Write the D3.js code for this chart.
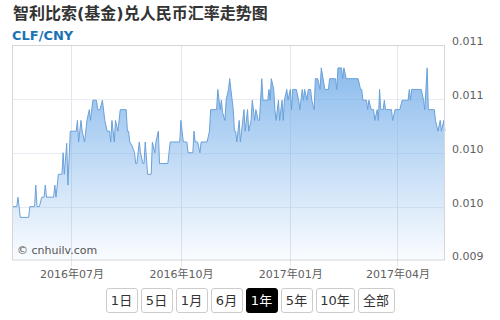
<!DOCTYPE html>
<html>
<head>
<meta charset="utf-8">
<script src="https://cdn.jsdelivr.net/npm/d3@7/dist/d3.min.js"></script>
<style>
  body { margin: 0; background: #fff; font-family: "DejaVu Sans", "Noto Sans CJK SC", sans-serif; }
  #wrap { position: relative; width: 500px; height: 320px; overflow: hidden; }
  #chart { position: absolute; left: 0; top: 0; }
  .btns { position: absolute; left: 0; top: 288px; width: 500px; display: flex; justify-content: center; gap: 3px; }
  .btns span { display: block; box-sizing: border-box; height: 25px; line-height: 23px; border: 1px solid #ccc; border-radius: 3px;
    font-size: 13px; color: #333; text-align: center; background: #fff; }
  .btns span.on { background: #000; color: #fff; border-color: #000; }
</style>
</head>
<body>
<div id="wrap">
  <svg id="chart" width="500" height="320"></svg>
  <div class="btns"></div>
</div>
<script>
const dates = ['2016-05-12','2016-05-16','2016-05-17','2016-05-19','2016-05-26','2016-05-27','2016-05-31','2016-06-01','2016-06-02','2016-06-04',
  '2016-06-06','2016-06-08','2016-06-09','2016-06-10','2016-06-16','2016-06-17','2016-06-18','2016-06-20','2016-06-23','2016-06-24',
  '2016-06-25','2016-06-27','2016-06-28','2016-06-30','2016-07-05','2016-07-06','2016-07-07','2016-07-09','2016-07-10','2016-07-12',
  '2016-07-14','2016-07-16','2016-07-17','2016-07-19','2016-07-22','2016-07-23','2016-07-25','2016-07-27','2016-07-29','2016-07-31',
  '2016-08-02','2016-08-03','2016-08-04','2016-08-06','2016-08-07','2016-08-09','2016-08-11','2016-08-16','2016-08-17','2016-08-18',
  '2016-08-19','2016-08-21','2016-08-23','2016-08-24','2016-08-25','2016-08-27','2016-08-28','2016-08-30','2016-08-31','2016-09-01',
  '2016-09-03','2016-09-06','2016-09-07','2016-09-09','2016-09-10','2016-09-12','2016-09-13','2016-09-20','2016-09-22','2016-09-30',
  '2016-10-01','2016-10-03','2016-10-06','2016-10-07','2016-10-11','2016-10-12','2016-10-13','2016-10-15','2016-10-17','2016-10-18',
  '2016-10-23','2016-10-25','2016-10-26','2016-10-31','2016-11-01','2016-11-03','2016-11-04','2016-11-05','2016-11-07','2016-11-08',
  '2016-11-10','2016-11-11','2016-11-12','2016-11-14','2016-11-15','2016-11-16','2016-11-17','2016-11-19','2016-11-20','2016-11-21',
  '2016-11-23','2016-11-24','2016-11-26','2016-11-27','2016-11-29','2016-11-30','2016-12-02','2016-12-03','2016-12-05','2016-12-06',
  '2016-12-08','2016-12-09','2016-12-13','2016-12-14','2016-12-15','2016-12-16','2016-12-18','2016-12-19','2016-12-20','2016-12-22',
  '2016-12-23','2016-12-25','2016-12-26','2016-12-27','2016-12-29','2016-12-30','2017-01-01','2017-01-02','2017-01-03','2017-01-06',
  '2017-01-08','2017-01-09','2017-01-11','2017-01-12','2017-01-13','2017-01-15','2017-01-16','2017-01-18','2017-01-19','2017-01-21',
  '2017-01-22','2017-01-24','2017-01-26','2017-01-27','2017-01-30','2017-02-02','2017-02-03','2017-02-08','2017-02-09','2017-02-10',
  '2017-02-13','2017-02-14','2017-02-15','2017-02-17','2017-02-27','2017-03-01','2017-03-02','2017-03-03','2017-03-06','2017-03-07',
  '2017-03-08','2017-03-10','2017-03-12','2017-03-13','2017-03-15','2017-03-16','2017-03-17','2017-03-18','2017-03-20','2017-03-21',
  '2017-03-22','2017-03-27','2017-03-28','2017-03-30','2017-04-03','2017-04-05','2017-04-07','2017-04-10','2017-04-11','2017-04-12',
  '2017-04-13','2017-04-21','2017-04-23','2017-04-24','2017-04-26','2017-04-27','2017-05-02','2017-05-03','2017-05-05','2017-05-07',
  '2017-05-08','2017-05-10','2017-05-11'];

const rates = [0.00980,0.00980,0.00987,0.00972,0.00972,0.00980,0.00980,0.00996,0.00980,0.00980,
  0.00987,0.00987,0.00996,0.00987,0.00987,0.00996,0.00987,0.01004,0.01004,0.01020,
  0.01004,0.01027,0.00996,0.01036,0.01036,0.01044,0.01028,0.01044,0.01036,0.01028,
  0.01044,0.01052,0.01044,0.01059,0.01059,0.01052,0.01052,0.01059,0.01044,0.01036,
  0.01036,0.01028,0.01044,0.01028,0.01044,0.01036,0.01052,0.01052,0.01036,0.01036,
  0.01028,0.01025,0.01020,0.01012,0.01012,0.01028,0.01020,0.01012,0.01012,0.01028,
  0.01004,0.01004,0.01028,0.01020,0.01028,0.01036,0.01012,0.01012,0.01028,0.01028,
  0.01044,0.01028,0.01028,0.01020,0.01020,0.01036,0.01028,0.01028,0.01020,0.01028,
  0.01028,0.01036,0.01052,0.01052,0.01067,0.01052,0.01059,0.01050,0.01044,0.01059,
  0.01067,0.01075,0.01067,0.01052,0.01036,0.01036,0.01028,0.01044,0.01028,0.01036,
  0.01052,0.01036,0.01052,0.01036,0.01044,0.01059,0.01044,0.01052,0.01044,0.01044,
  0.01075,0.01059,0.01059,0.01067,0.01059,0.01075,0.01067,0.01052,0.01044,0.01059,
  0.01044,0.01059,0.01044,0.01059,0.01067,0.01059,0.01067,0.01052,0.01067,0.01067,
  0.01059,0.01052,0.01067,0.01059,0.01067,0.01059,0.01067,0.01067,0.01059,0.01052,
  0.01075,0.01075,0.01067,0.01083,0.01067,0.01067,0.01075,0.01075,0.01067,0.01083,
  0.01083,0.01075,0.01083,0.01075,0.01075,0.01067,0.01067,0.01059,0.01059,0.01052,
  0.01059,0.01052,0.01052,0.01044,0.01052,0.01044,0.01067,0.01052,0.01052,0.01059,
  0.01052,0.01052,0.01044,0.01052,0.01052,0.01059,0.01059,0.01059,0.01067,0.01059,
  0.01067,0.01067,0.01059,0.01052,0.01083,0.01052,0.01052,0.01044,0.01036,0.01044,
  0.01036,0.01044,0.01036];

const yTicks = [0.0094, 0.0098, 0.0102, 0.0106, 0.0110];
const xTicks = ['2016-07-01', '2016-10-01', '2017-01-01', '2017-04-01'];
const xDomain = ['2016-05-12', '2017-05-11'];
const ranges = ['1日', '5日', '1月', '6月', '1年', '5年', '10年', '全部'];
const activeRange = '1年';

const parse = d3.timeParse('%Y-%m-%d');
const data = dates.map((d, i) => ({ date: parse(d), rate: rates[i] }));

const svg = d3.select('#chart');
const plotLeft = 12, plotRight = 445, plotTop = 45, plotBottom = 260.5;

const x = d3.scaleTime().domain(xDomain.map(parse)).range([plotLeft, plotRight]);
const y = d3.scaleLinear().domain([yTicks[0], yTicks[yTicks.length - 1]]).range([plotBottom, plotTop]);

// title
svg.append('text')
  .attr('x', 13).attr('y', 19)
  .style('font-size', '16px').style('font-weight', 'bold').style('fill', '#333')
  .text('智利比索(基金)兑人民币汇率走势图');
svg.append('text')
  .attr('x', 12).attr('y', 40)
  .style('font-size', '13px').style('font-weight', 'bold').style('fill', '#1a72b4')
  .text('CLF/CNY');

const grad = svg.append('defs').append('linearGradient')
  .attr('id', 'fillGrad')
  .attr('gradientUnits', 'userSpaceOnUse')
  .attr('x1', 0).attr('x2', 0).attr('y1', plotTop).attr('y2', plotBottom);
grad.append('stop').attr('offset', '0%').attr('stop-color', '#78b0ea').attr('stop-opacity', 0.95);
grad.append('stop').attr('offset', '100%').attr('stop-color', '#78b0ea').attr('stop-opacity', 0.03);

// grid
svg.append('g')
  .selectAll('line')
  .data(yTicks.slice(1, -1))
  .join('line')
  .attr('x1', plotLeft).attr('x2', plotRight)
  .attr('y1', d => Math.round(y(d)) + 0.5).attr('y2', d => Math.round(y(d)) + 0.5)
  .attr('stroke', '#e8ecf2');
svg.append('g')
  .selectAll('line')
  .data(xTicks.map(parse))
  .join('line')
  .attr('x1', d => Math.round(x(d)) + 0.5).attr('x2', d => Math.round(x(d)) + 0.5)
  .attr('y1', plotTop).attr('y2', plotBottom + 6)
  .attr('stroke', '#e3e6ea');

const area = d3.area()
  .x(d => x(d.date))
  .y0(plotBottom)
  .y1(d => y(d.rate));
const line = d3.line()
  .x(d => x(d.date))
  .y(d => y(d.rate));

svg.append('path')
  .datum(data)
  .attr('d', area)
  .attr('fill', 'url(#fillGrad)');
svg.append('path')
  .datum(data)
  .attr('d', line)
  .attr('fill', 'none')
  .attr('stroke', '#6aa1d9')
  .attr('stroke-width', 1);

// plot border
svg.append('rect')
  .attr('x', plotLeft + 0.5).attr('y', plotTop + 0.5)
  .attr('width', plotRight - plotLeft - 1).attr('height', plotBottom - plotTop - 1)
  .attr('fill', 'none').attr('stroke', '#d6d6d6');

// axes
const yAxis = d3.axisRight(y)
  .tickValues(yTicks)
  .tickFormat(d3.format('.3f'))
  .tickSize(0)
  .tickPadding(7);
svg.append('g')
  .attr('transform', `translate(${plotRight}, 0)`)
  .call(yAxis)
  .call(g => g.select('.domain').remove())
  .call(g => g.selectAll('text')
    .attr('dy', '-0.05em')
    .style('font-family', '"DejaVu Sans", sans-serif')
    .style('font-size', '11px')
    .style('fill', '#606060'));

const xAxis = d3.axisBottom(x)
  .tickValues(xTicks.map(parse))
  .tickFormat(d3.timeFormat('%Y年%m月'))
  .tickSize(0)
  .tickPadding(10);
svg.append('g')
  .attr('transform', `translate(0, ${plotBottom})`)
  .call(xAxis)
  .call(g => g.select('.domain').remove())
  .call(g => g.selectAll('text')
    .style('font-family', '"DejaVu Sans", "Noto Sans CJK SC", sans-serif')
    .style('font-size', '11px')
    .style('fill', '#606060'));

svg.append('text')
  .attr('x', 17).attr('y', 254)
  .style('font-size', '11px').style('fill', '#555')
  .text('© cnhuilv.com');

d3.select('.btns')
  .selectAll('span')
  .data(ranges)
  .join('span')
  .classed('on', d => d === activeRange)
  .style('width', d => d.length > 2 ? '39px' : (d === '全部' ? '37px' : '32px'))
  .text(d => d);
</script>
</body>
</html>
